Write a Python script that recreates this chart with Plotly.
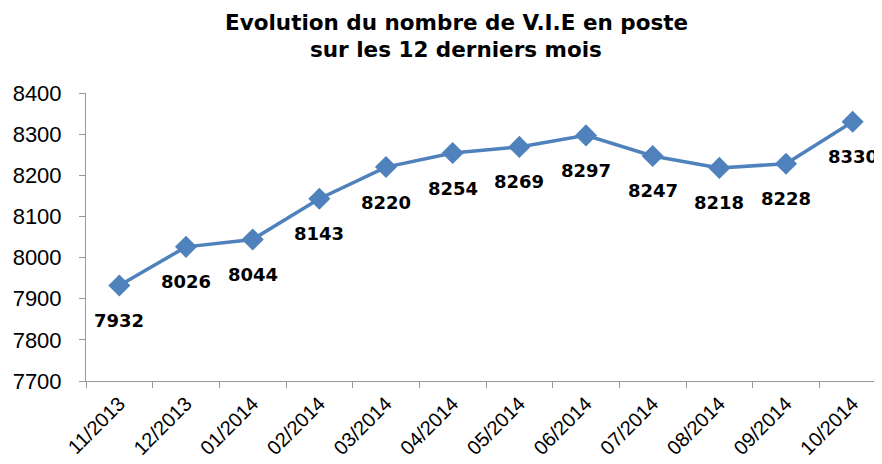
import plotly.graph_objects as go

months = ["11/2013", "12/2013", "01/2014", "02/2014", "03/2014", "04/2014",
          "05/2014", "06/2014", "07/2014", "08/2014", "09/2014", "10/2014"]
vie_count = [7932, 8026, 8044, 8143, 8220, 8254, 8269, 8297, 8247, 8218, 8228, 8330]
y_ticks = [7700, 7800, 7900, 8000, 8100, 8200, 8300, 8400]
title_lines = ["Evolution du nombre de V.I.E en poste", "sur les 12 derniers mois"]

# page has an 8px body margin; the figure is sized to fill the rest of the window
W, H = 874, 456
ML, MR, MT, MB = 78, 0, 85, 83
OFF = 8

fig = go.Figure()
fig.add_trace(go.Scatter(
    x=months, y=vie_count,
    mode="lines+markers",
    line=dict(color="#4F81BD", width=3.5),
    marker=dict(symbol="diamond", size=17, color="#4F81BD"),
    cliponaxis=False,
    showlegend=False,
))

annotations = []
for m, v in zip(months, vie_count):
    annotations.append(dict(
        x=m, y=v, xref="x", yref="y", text=str(v), showarrow=False,
        yshift=-35, xanchor="center", yanchor="middle",
        font=dict(family="DejaVu Sans", size=18, color="black", weight="bold"),
    ))
plot_w, plot_h = W - ML - MR, H - MT - MB
for i, line in enumerate(title_lines):
    px, py = 456 - OFF, 22 + 28 * i - OFF
    annotations.append(dict(
        x=(px - ML) / plot_w, y=(H - MB - py) / plot_h,
        xref="paper", yref="paper", text=line, showarrow=False,
        xanchor="center", yanchor="middle",
        font=dict(family="DejaVu Sans", size=21.5, color="black", weight="bold"),
    ))

fig.update_layout(
    width=W, height=H,
    margin=dict(l=ML, r=MR, t=MT, b=MB),
    paper_bgcolor="white", plot_bgcolor="white",
    annotations=annotations,
    xaxis=dict(
        type="category", range=[-0.5, 11.44], automargin=False,
        tickson="boundaries", ticks="outside", ticklen=6, tickcolor="#999999",
        showline=True, linecolor="#999999", linewidth=1,
        showgrid=False, tickangle=-45, ticklabelstandoff=2,
        tickfont=dict(family="Liberation Sans", size=20, color="black"),
    ),
    yaxis=dict(
        range=[7700, 8400], tickvals=y_ticks, automargin=False,
        ticks="outside", ticklen=6, tickcolor="#999999",
        showline=True, linecolor="#999999", linewidth=1,
        showgrid=False, zeroline=False, ticklabelstandoff=13,
        tickfont=dict(family="Liberation Sans", size=22, color="black"),
    ),
)

fig.write_html("out.html")
